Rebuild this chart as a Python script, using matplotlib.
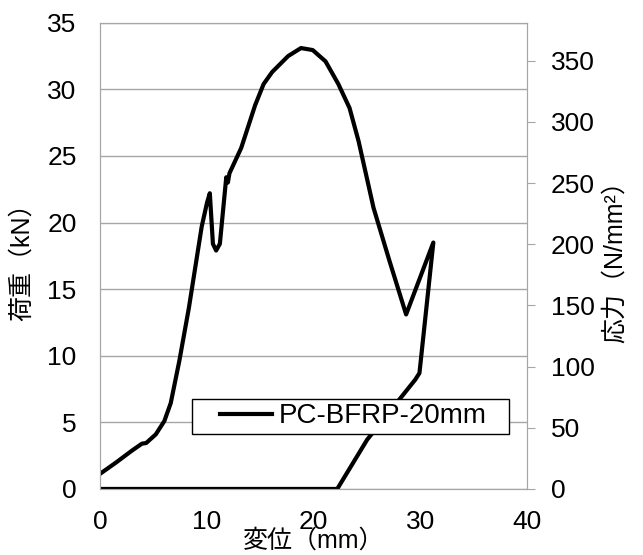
import matplotlib.pyplot as plt
import matplotlib.patches as mpatches

plt.rcParams['font.family'] = ['Liberation Sans', 'Noto Sans CJK JP', 'DejaVu Sans']

# displacement (mm) and load (kN)
disp = [0.0, 1.5, 3.0, 3.9, 4.3, 5.2, 6.0, 6.6, 7.4, 8.3, 9.5, 10.0, 10.26,
        10.55, 10.85, 11.2, 11.8, 11.95, 12.1, 13.2, 14.5, 15.3, 16.1, 17.6,
        18.8, 19.9, 21.1, 22.3, 23.35, 24.2, 25.6, 27.1, 28.65, 31.2, 29.9,
        29.5, 25.0, 22.2, 0.0]
load = [1.15, 2.0, 2.9, 3.4, 3.45, 4.1, 5.1, 6.45, 9.6, 13.6, 19.7, 21.5, 22.2,
        18.4, 17.9, 18.4, 23.4, 23.0, 23.7, 25.6, 28.8, 30.4, 31.3, 32.5,
        33.1, 32.95, 32.1, 30.4, 28.6, 26.1, 21.1, 17.1, 13.1, 18.5, 8.7,
        8.2, 3.7, 0.0, 0.0]

fig, ax = plt.subplots(figsize=(6.43, 5.55), dpi=100)
fig.subplots_adjust(left=0.156, right=0.820, bottom=0.119, top=0.959)

ax.plot(disp, load, color='black', lw=3, solid_joinstyle='round',
        label='PC-BFRP-20mm', zorder=3)

ax.set_xlim(0, 40)
ax.set_ylim(0, 35)
ax.set_xticks(range(0, 41, 10))
ax.set_yticks(range(0, 36, 5))
ax.grid(axis='y', color='#a6a6a6', lw=1)
for s in ax.spines.values():
    s.set_color('#a6a6a6')
ax.tick_params(labelsize=19, length=0)
ax.tick_params(axis='y', pad=17)
ax.tick_params(axis='x', pad=15)
ax.set_ylabel('荷重（kN）', fontsize=18)
ax.yaxis.set_label_coords(-0.155, 0.5)
ax.set_xlabel('変位（mm）', fontsize=18)
ax.xaxis.set_label_coords(0.5, -0.085)

ax2 = ax.twinx()
ax2.set_ylim(0, 381)
ax2.set_yticks(range(0, 351, 50))
for s in ax2.spines.values():
    s.set_color('#a6a6a6')
ax2.tick_params(labelsize=19, length=6, color='#a6a6a6', pad=11)
ax2.set_ylabel('応力（N/mm²）', fontsize=18, rotation=90)
ax2.yaxis.set_label_coords(1.178, 0.5)

# legend box drawn over the curve, as in the source chart
box = mpatches.Rectangle((0.215, 0.118), 0.743, 0.075, transform=ax.transAxes,
                         facecolor='white', edgecolor='black', lw=1, zorder=4)
ax.add_patch(box)
leg = ax.legend(loc='center left', bbox_to_anchor=(0.281, 0.156), fontsize=20,
                frameon=False, handlelength=1.87, borderpad=0,
                borderaxespad=0, handletextpad=0.22)
leg.set_zorder(5)

plt.savefig('out.png', dpi=100)
